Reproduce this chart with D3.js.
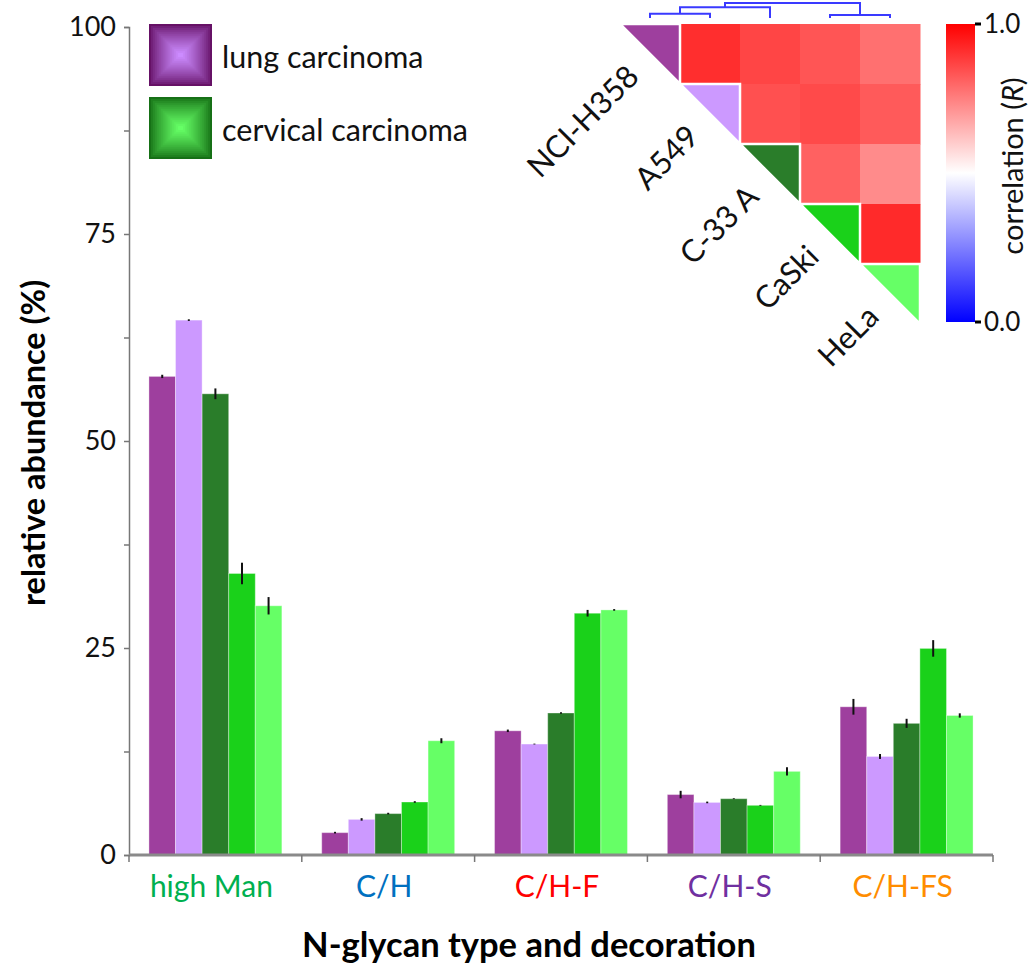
<!DOCTYPE html>
<html><head><meta charset="utf-8">
<script src="https://cdn.jsdelivr.net/npm/d3@7"></script>
<style>body{margin:0;background:#fff;} svg{display:block;font-family:Lato,"Noto Sans",sans-serif;}</style>
</head><body>
<svg id="chart" width="1031" height="966"></svg>
<script>
// ---------- data ----------
const groups = ["high Man", "C/H", "C/H-F", "C/H-S", "C/H-FS"];
const groupColors = ["#00b050", "#0070c0", "#ff0000", "#7030a0", "#ff8c00"];
const cellLines = ["NCI-H358", "A549", "C-33 A", "CaSki", "HeLa"];
const lineColors = ["#9e3f9e", "#cc99ff", "#2a7d2a", "#1ad11a", "#66ff66"];

const nciH358 = [57.8, 2.7, 15.0, 7.3, 17.9];
const a549    = [64.6, 4.3, 13.4, 6.35, 11.9];
const c33a    = [55.7, 5.0, 17.15, 6.8, 15.9];
const caski   = [34.0, 6.4, 29.2, 6.0, 24.95];
const hela    = [30.1, 13.8, 29.6, 10.1, 16.85];

const errNciH358 = [0.2, 0.1, 0.15, 0.45, 0.95];
const errA549    = [0.1, 0.15, 0.05, 0.1, 0.3];
const errC33a    = [0.65, 0.1, 0.1, 0.05, 0.55];
const errCaski   = [1.3, 0.1, 0.4, 0.05, 1.0];
const errHela    = [1.05, 0.3, 0.1, 0.5, 0.26];

const yTicks = [0, 25, 50, 75, 100];
const yMinorTicks = [12.5, 37.5, 62.5, 87.5];

const legendLabels = ["lung carcinoma", "cervical carcinoma"];
const legendEdge = ["#661166", "#167016"];
const legendCenter = ["#cc8cff", "#66ff66"];

// correlation (R) matrix rows
const corrNciH358 = [1, 0.91, 0.865, 0.833, 0.78];
const corrA549    = [0.91, 1, 0.843, 0.855, 0.823];
const corrC33a    = [0.865, 0.843, 1, 0.81, 0.727];
const corrCaski   = [0.833, 0.855, 0.81, 1, 0.917];
const corrHela    = [0.78, 0.823, 0.727, 0.917, 1];
const colorbarTicks = [0, 1];

// dendrogram merges (arbitrary heights)
const dendroMerges = [
  {id: "m0", left: "NCI-H358", right: "A549", height: 0.35},
  {id: "m1", left: "m0", right: "C-33 A", height: 0.9},
  {id: "m2", left: "CaSki", right: "HeLa", height: 0.25},
  {id: "m3", left: "m1", right: "m2", height: 1.25}
];

// ---------- build ----------
const series = [nciH358, a549, c33a, caski, hela];
const errors = [errNciH358, errA549, errC33a, errCaski, errHela];
const corr = [corrNciH358, corrA549, corrC33a, corrCaski, corrHela];

const svg = d3.select("#chart");
const x0 = d3.scaleBand().domain(groups).range([129, 993]).paddingInner(0).paddingOuter(0);
const x1 = d3.scaleBand().domain(cellLines).range([0, x0.bandwidth()]).paddingInner(0).paddingOuter(0.75);
const y = d3.scaleLinear().domain([0, 100]).range([855, 27]);

const barData = [];
groups.forEach((g, gi) => cellLines.forEach((c, ci) => {
  barData.push({g, c, ci, v: series[ci][gi], e: errors[ci][gi]});
}));

const bars = svg.append("g");
bars.selectAll("rect").data(barData).join("rect")
  .attr("x", d => x0(d.g) + x1(d.c))
  .attr("y", d => y(d.v))
  .attr("width", x1.bandwidth())
  .attr("height", d => y(0) - y(d.v))
  .attr("fill", d => lineColors[d.ci])
  .attr("stroke", "rgba(255,255,255,0.35)")
  .attr("stroke-width", 1);

bars.selectAll("line.err").data(barData).join("line").attr("class", "err")
  .attr("x1", d => x0(d.g) + x1(d.c) + x1.bandwidth() / 2)
  .attr("x2", d => x0(d.g) + x1(d.c) + x1.bandwidth() / 2)
  .attr("y1", d => y(d.v + d.e))
  .attr("y2", d => y(d.v - d.e))
  .attr("stroke", "#111").attr("stroke-width", 2);

// y axis
const yAxisG = svg.append("g").attr("transform", "translate(129,0)");
yAxisG.call(d3.axisLeft(y).tickValues(yTicks).tickSize(5).tickPadding(8).tickFormat(d3.format("d")));
yAxisG.append("g").call(d3.axisLeft(y).tickValues(yMinorTicks).tickSize(5).tickFormat(""));
yAxisG.selectAll(".domain").attr("stroke", "#777").attr("stroke-width", 1.5);
yAxisG.selectAll(".tick line").attr("stroke", "#777").attr("stroke-width", 1.5);
yAxisG.selectAll(".tick text").attr("font-size", 27).attr("fill", "#111").attr("font-family", "Lato");
yAxisG.selectAll("g > g > .domain").remove();

// x axis
const xAxisG = svg.append("g").attr("transform", "translate(0,855)");
xAxisG.append("line").attr("x1", x0.range()[0]).attr("x2", x0.range()[1])
  .attr("y1", 0).attr("y2", 0).attr("stroke", "#8a8a8a").attr("stroke-width", 3);
const boundaries = groups.map(g => x0(g)).concat([x0.range()[1]]);
xAxisG.selectAll("line.tk").data(boundaries).join("line").attr("class", "tk")
  .attr("x1", d => d).attr("x2", d => d).attr("y1", 0).attr("y2", 7)
  .attr("stroke", "#777").attr("stroke-width", 1.5);
xAxisG.selectAll("text").data(groups).join("text")
  .attr("x", d => x0(d) + x0.bandwidth() / 2 - 4)
  .attr("y", 42)
  .attr("text-anchor", "middle")
  .attr("font-size", 30)
  .attr("fill", (d, i) => groupColors[i])
  .text(d => d);

// axis titles
svg.append("text").attr("x", 529).attr("y", 957).attr("text-anchor", "middle")
  .attr("font-size", 34.5).attr("font-weight", "bold").attr("fill", "#000")
  .text("N-glycan type and decoration");
svg.append("text").attr("transform", "translate(45,443) rotate(-90)").attr("text-anchor", "middle")
  .attr("font-size", 32.5).attr("font-weight", "bold").attr("fill", "#000")
  .text("relative abundance (%)");

// legend
const legend = svg.append("g");
legendLabels.forEach((lab, i) => {
  const lx = 149, ly = 24 + i * 73, w = 63, h = 62, steps = 16;
  const interp = d3.interpolateRgb(legendEdge[i], legendCenter[i]);
  for (let k = 0; k < steps; k++) {
    const inset = k * (Math.min(w, h) / 2) / steps;
    legend.append("rect").attr("x", lx + inset).attr("y", ly + inset)
      .attr("width", w - 2 * inset).attr("height", h - 2 * inset)
      .attr("fill", interp(Math.pow(k / (steps - 1), 0.8)));
  }
  legend.append("text").attr("x", 222).attr("y", ly + 44).attr("font-size", 30.5).attr("fill", "#111").text(lab);
});

// heatmap
const hx = d3.scaleBand().domain(cellLines).range([620, 920]);
const hy = d3.scaleBand().domain(cellLines).range([24, 324]);
const color = d3.scaleLinear().domain([0, 0.5, 1]).range(["#0000ff", "#ffffff", "#ff0000"]);
const heat = svg.append("g");
const cells = [];
cellLines.forEach((r, i) => cellLines.forEach((c, j) => { if (j > i) cells.push({r, c, v: corr[i][j]}); }));
heat.selectAll("rect").data(cells).join("rect")
  .attr("x", d => hx(d.c)).attr("y", d => hy(d.r))
  .attr("width", hx.bandwidth() + 0.5).attr("height", hy.bandwidth() + 0.5)
  .attr("fill", d => color(d.v));
heat.selectAll("path.diag").data(cellLines).join("path").attr("class", "diag")
  .attr("d", d => {
    const x = hx(d), yy = hy(d), s = hx.bandwidth();
    return `M${x},${yy}L${x + s},${yy}L${x + s},${yy + s}Z`;
  })
  .attr("fill", (d, i) => lineColors[i])
  .attr("stroke", "#fff").attr("stroke-width", 2.5).attr("stroke-linejoin", "miter");
heat.selectAll("text").data(cellLines).join("text")
  .attr("transform", d => {
    const cx = hx(d) + hx.bandwidth() / 2, cy = hy(d) + hy.bandwidth() / 2;
    const gap = 24 / Math.SQRT2;
    return `translate(${cx - gap},${cy + gap}) rotate(-45)`;
  })
  .attr("text-anchor", "end").attr("dy", "0.35em")
  .attr("font-size", 31).attr("fill", "#111")
  .text(d => d);

// dendrogram
const leafY = 18;
const dh = d3.scaleLinear().domain([0, 1.25]).range([leafY, 3]);
const nodes = {};
cellLines.forEach(c => nodes[c] = {x: hx(c) + hx.bandwidth() / 2, y: leafY});
const dendro = svg.append("g").attr("fill", "none").attr("stroke", "#3a3aff").attr("stroke-width", 2);
dendroMerges.forEach(m => {
  const a = nodes[m.left], b = nodes[m.right], my = dh(m.height);
  dendro.append("path").attr("d", `M${a.x},${a.y}V${my}H${b.x}V${b.y}`);
  nodes[m.id] = {x: (a.x + b.x) / 2, y: my};
});

// colorbar
const defs = svg.append("defs");
const grad = defs.append("linearGradient").attr("id", "cbar").attr("x1", 0).attr("x2", 0).attr("y1", 1).attr("y2", 0);
d3.range(0, 1.0001, 0.1).forEach(t => grad.append("stop").attr("offset", t).attr("stop-color", color(t)));
const cb = d3.scaleLinear().domain([0, 1]).range([322, 24]);
svg.append("rect").attr("x", 946).attr("y", cb(1)).attr("width", 29).attr("height", cb(0) - cb(1)).attr("fill", "url(#cbar)");
const cbAxis = svg.append("g").attr("transform", "translate(975,0)");
cbAxis.selectAll("rect").data(colorbarTicks).join("rect")
  .attr("x", 0).attr("y", d => cb(d) - 1.5).attr("width", 6).attr("height", 3).attr("fill", "#000");
cbAxis.selectAll("text").data(colorbarTicks).join("text")
  .attr("x", 9).attr("y", d => cb(d)).attr("dy", "0.36em")
  .attr("font-size", 26).attr("fill", "#111").text(d => d3.format(".1f")(d));
const cbt = svg.append("text").attr("transform", "translate(1023,166) rotate(-90)").attr("text-anchor", "middle")
  .attr("font-size", 29).attr("fill", "#111");
cbt.append("tspan").text("correlation (");
cbt.append("tspan").attr("font-style", "italic").text("R");
cbt.append("tspan").text(")");
</script>
</body></html>
